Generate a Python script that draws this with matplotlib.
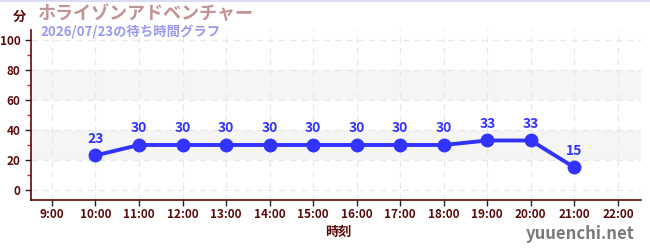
import matplotlib
matplotlib.use("Agg")
import matplotlib.pyplot as plt
from matplotlib.ticker import FixedLocator

plt.rcParams['font.family'] = ['Noto Sans CJK JP', 'DejaVu Sans']

hours = [10, 11, 12, 13, 14, 15, 16, 17, 18, 19, 20, 21]
waits = [23, 30, 30, 30, 30, 30, 30, 30, 30, 33, 33, 15]
tick_hours = list(range(9, 23))
tick_labels = [f"{h}:00" for h in tick_hours]
title = "ホライゾンアドベンチャー"
subtitle = "2026/07/23の待ち時間グラフ"
ylabel = "分"
xlabel = "時刻"
site = "yuuenchi.net"

dark = "#5a0a0a"
blue = "#3333ff"

fig = plt.figure(figsize=(6.5, 2.5), dpi=100)
ax = fig.add_axes([31/650, 1-200/250, 610/650, 170/250])
ax.set_xlim(8.52, 22.53)
ax.set_ylim(-6.7, 106.7)

for lo, hi in [(20, 40), (60, 80)]:
    ax.axhspan(lo, hi, color="#f5f5f5", zorder=0, lw=0)

ax.set_xticks(tick_hours)
ax.set_xticklabels(tick_labels)
ax.yaxis.set_major_locator(FixedLocator([0, 20, 40, 60, 80, 100]))
ax.yaxis.set_minor_locator(FixedLocator([10, 30, 50, 70, 90]))
ax.grid(True, which="major", color="#e8e8e8", linestyle=(0, (5, 4)), lw=0.9, zorder=0.5)

for s in ["top", "right"]:
    ax.spines[s].set_visible(False)
for s in ["left", "bottom"]:
    ax.spines[s].set_color(dark)
    ax.spines[s].set_linewidth(1.2)

ax.tick_params(axis="both", which="major", colors="#222222", labelcolor=dark, length=4, width=1, labelsize=8.5)
ax.tick_params(axis="y", which="minor", colors="#dd2222", length=3, width=1)
for lab in ax.get_xticklabels() + ax.get_yticklabels():
    lab.set_fontweight("bold")
ax.tick_params(axis="x", pad=2)

ax.plot(hours, waits, color=blue, lw=2.8, marker="o", ms=9, zorder=3)
for h, w in zip(hours, waits):
    ax.annotate(str(w), (h, w), xytext=(0, 7), textcoords="offset points",
                ha="center", va="bottom", color=blue, fontsize=10, fontweight="bold")

fig.text(338/650, 1-232/250, xlabel, ha="center", va="center", color=dark, fontsize=9.5, fontweight="bold")
fig.text(19/650, 1-17/250, ylabel, ha="center", va="center", color=dark, fontsize=9.5, fontweight="bold")
fig.text(37/650, 1-14/250, title, ha="left", va="center", color="#c29393", fontsize=13, fontweight="bold")
fig.text(40/650, 1-32/250, subtitle, ha="left", va="center", color="#9a9af0", fontsize=9.6, fontweight="bold")
fig.text(635/650, 1-234/250, site, ha="right", va="center", color="#7a7a7a", fontsize=12, fontweight="bold")

fig.add_artist(plt.Line2D([0, 1], [1-0.5/250, 1-0.5/250], color="#dcdcf5", lw=1.5, transform=fig.transFigure))

fig.savefig("out.png", dpi=100)
